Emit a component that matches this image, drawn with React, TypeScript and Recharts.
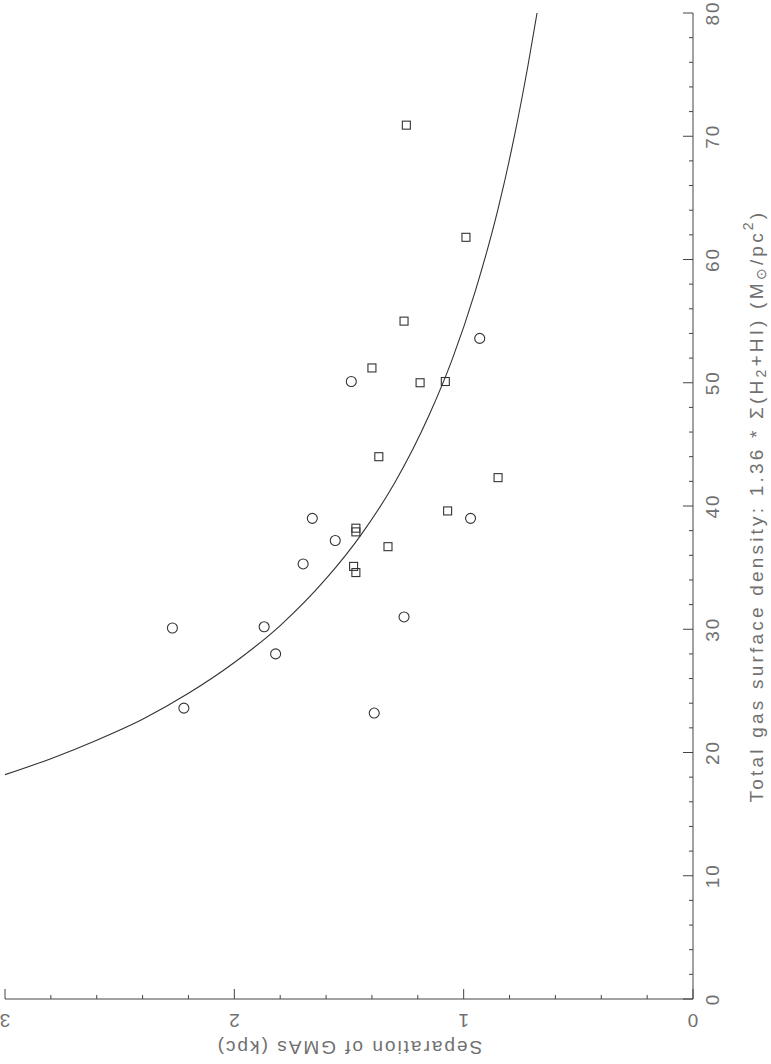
import React from 'react';
import { ComposedChart, XAxis, YAxis, Scatter, Line } from 'recharts';

// Separation of GMAs (kpc) vs total gas surface density (Msun/pc^2)
const circleSep = [2.27, 1.87, 1.82, 2.22, 1.39, 1.26, 1.70, 1.56, 1.66, 0.97, 1.49, 0.93];
const circleDens = [30.1, 30.2, 28.0, 23.6, 23.2, 31.0, 35.3, 37.2, 39.0, 39.0, 50.1, 53.6];

const squareSep = [1.25, 0.99, 1.26, 1.40, 1.19, 1.08, 1.37, 0.85, 1.07, 1.47, 1.47, 1.33, 1.48, 1.47];
const squareDens = [70.9, 61.8, 55.0, 51.2, 50.0, 50.1, 44.0, 42.3, 39.6, 38.2, 37.9, 36.7, 35.1, 34.6];

// fitted curve, points
const curveSep = [3.0, 2.8, 2.6, 2.4, 2.2, 2.0, 1.8, 1.6, 1.45, 1.3, 1.15, 1.05, 0.95, 0.85, 0.78, 0.72, 0.68];
const curveDens = [18.2, 19.5, 21.0, 22.7, 24.8, 27.3, 30.3, 34.1, 37.6, 41.9, 47.4, 51.9, 57.4, 64.1, 69.9, 75.7, 80.0];

const sepMajorTicks = [0, 1, 2, 3];
const sepMinorTicks = [0.2, 0.4, 0.6, 0.8, 1.2, 1.4, 1.6, 1.8, 2.2, 2.4, 2.6, 2.8];
const densMajorTicks = [0, 10, 20, 30, 40, 50, 60, 70, 80];
const densMinorTicks = [2, 4, 6, 8, 12, 14, 16, 18, 22, 24, 26, 28, 32, 34, 36, 38, 42, 44, 46, 48, 52, 54, 56, 58, 62, 64, 66, 68, 72, 74, 76, 78];

const xTitle = 'Separation of GMAs (kpc)';

const circles = circleSep.map((s, i) => ({ sep: s, dens: circleDens[i] }));
const squares = squareSep.map((s, i) => ({ sep: s, dens: squareDens[i] }));
const curve = curveSep.map((s, i) => ({ sep: s, dens: curveDens[i] }));
const sepTicks = [...sepMajorTicks, ...sepMinorTicks].sort((a, b) => a - b);
const densTicks = [...densMajorTicks, ...densMinorTicks].sort((a, b) => a - b);

const INK = '#444';
const TXT = '#707070';
const FONT = 'Liberation Sans, Arial, sans-serif';
const MAJ = 10;
const MIN = 4;

const isMajor = (v: number, majors: number[]) => majors.some((m) => Math.abs(m - v) < 1e-6);

const BottomTick = (p: any) => {
  const { x, y, payload } = p;
  const major = isMajor(payload.value, sepMajorTicks);
  return (
    <g>
      <line x1={x} y1={y} x2={x} y2={y - (major ? MAJ : MIN)} stroke={INK} strokeWidth={1} />
      {major && (
        <text
          x={x}
          y={y + 21}
          transform={`rotate(180, ${x}, ${y + 21})`}
          textAnchor="middle"
          dominantBaseline="central"
          fontFamily={FONT}
          fontSize={19}
          fill={TXT}
        >
          {payload.value}
        </text>
      )}
    </g>
  );
};

const TopTick = (p: any) => {
  const { x, y, payload } = p;
  const major = isMajor(payload.value, sepMajorTicks);
  return <line x1={x} y1={y} x2={x} y2={y + (major ? MAJ : MIN)} stroke={INK} strokeWidth={1} />;
};

const RightTick = (p: any) => {
  const { x, y, payload } = p;
  const major = isMajor(payload.value, densMajorTicks);
  return (
    <g>
      <line x1={x} y1={y} x2={x - (major ? MAJ : MIN)} y2={y} stroke={INK} strokeWidth={1} />
      {major && (
        <text
          x={x + 19}
          y={y}
          transform={`rotate(-90, ${x + 19}, ${y})`}
          textAnchor="middle"
          dominantBaseline="central"
          fontFamily={FONT}
          fontSize={19}
          letterSpacing={2}
          fill={TXT}
        >
          {payload.value}
        </text>
      )}
    </g>
  );
};

const LeftTick = (p: any) => {
  const { x, y, payload } = p;
  const major = isMajor(payload.value, densMajorTicks);
  return <line x1={x} y1={y} x2={x + (major ? MAJ : MIN)} y2={y} stroke={INK} strokeWidth={1} />;
};

const CircleShape = (p: any) => (
  <circle cx={p.cx} cy={p.cy} r={5} fill="none" stroke="#333" strokeWidth={1.1} />
);
const SquareShape = (p: any) => (
  <rect x={p.cx - 4} y={p.cy - 4} width={8} height={8} fill="none" stroke="#333" strokeWidth={1.1} />
);

const W = 771;
const H = 1064;
const PL = 5, PT = 13, PR = 693, PB = 999;

export default function App() {
  const cx = (PL + PR) / 2;
  const cy = (PT + PB) / 2;
  return (
    <div style={{ position: 'absolute', left: 0, top: 0, width: W, height: H, background: '#fff' }}>
      <ComposedChart width={W} height={H} margin={{ top: PT, left: PL, right: 0, bottom: 0 }}>
        <XAxis
          xAxisId="main"
          type="number"
          dataKey="sep"
          domain={[0, 3]}
          reversed
          allowDataOverflow
          orientation="bottom"
          height={H - PB}
          ticks={sepTicks}
          interval={0}
          tickSize={0}
          tickMargin={0}
          tickLine={false}
          tick={BottomTick}
          axisLine={{ stroke: INK }}
        />
        <XAxis
          xAxisId="top"
          type="number"
          domain={[0, 3]}
          reversed
          allowDataOverflow
          orientation="top"
          height={0}
          ticks={sepTicks}
          interval={0}
          tickSize={0}
          tickMargin={0}
          tickLine={false}
          tick={TopTick}
          axisLine={{ stroke: INK }}
        />
        <YAxis
          yAxisId="main"
          type="number"
          dataKey="dens"
          domain={[0, 80]}
          allowDataOverflow
          orientation="right"
          width={W - PR}
          ticks={densTicks}
          interval={0}
          tickSize={0}
          tickMargin={0}
          tickLine={false}
          tick={RightTick}
          axisLine={{ stroke: INK }}
        />
        <YAxis
          yAxisId="left"
          type="number"
          domain={[0, 80]}
          allowDataOverflow
          orientation="left"
          width={0}
          ticks={densTicks}
          interval={0}
          tickSize={0}
          tickMargin={0}
          tickLine={false}
          tick={LeftTick}
          axisLine={{ stroke: INK }}
        />
        <Line
          xAxisId="main"
          yAxisId="main"
          data={curve}
          dataKey="dens"
          type="monotone"
          stroke="#333"
          strokeWidth={1.1}
          dot={false}
          isAnimationActive={false}
        />
        <Scatter
          xAxisId="main"
          yAxisId="main"
          data={circles}
          dataKey="dens"
          shape={CircleShape}
          isAnimationActive={false}
        />
        <Scatter
          xAxisId="main"
          yAxisId="main"
          data={squares}
          dataKey="dens"
          shape={SquareShape}
          isAnimationActive={false}
        />
        <text
          x={cx}
          y={1047}
          transform={`rotate(180, ${cx}, 1047)`}
          textAnchor="middle"
          dominantBaseline="central"
          fontFamily={FONT}
          fontSize={19}
          letterSpacing={2}
          fill={TXT}
        >
          {xTitle}
        </text>
        <text
          x={756}
          y={cy}
          transform={`rotate(-90, 756, ${cy})`}
          textAnchor="middle"
          dominantBaseline="central"
          fontFamily={FONT}
          fontSize={19}
          letterSpacing={3.2}
          fill={TXT}
        >
          <tspan>Total gas surface density: 1.36 * Σ(H</tspan>
          <tspan fontSize={14} dy={5}>2</tspan>
          <tspan dy={-5}>+HI) (M</tspan>
          <tspan fontSize={14} dy={5}>⊙</tspan>
          <tspan dy={-5}>/pc</tspan>
          <tspan fontSize={14} dy={-8}>2</tspan>
          <tspan dy={8}>)</tspan>
        </text>
      </ComposedChart>
    </div>
  );
}
